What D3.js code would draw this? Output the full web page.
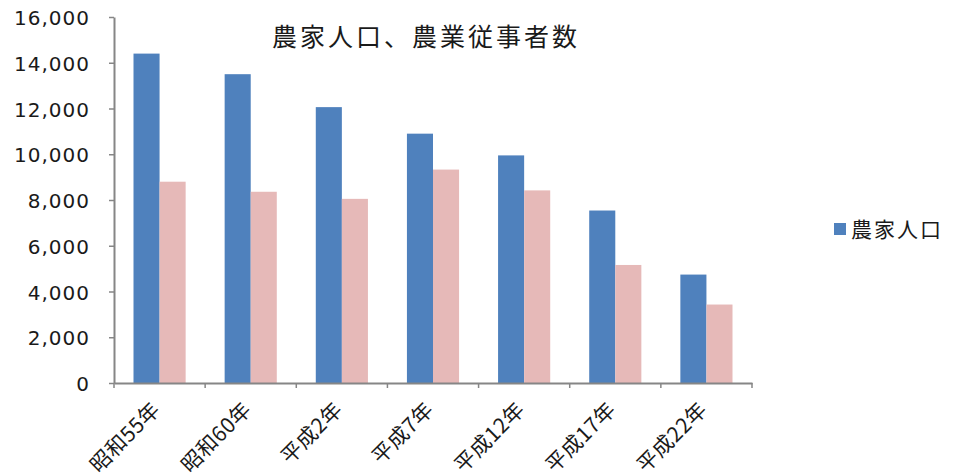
<!DOCTYPE html>
<html>
<head>
<meta charset="utf-8">
<script src="https://cdn.jsdelivr.net/npm/d3@7"></script>
<style>
  body { margin: 0; background: #fff; }
  svg { display: block; }
</style>
</head>
<body>
<svg id="chart"></svg>
<script>
// data
const categories = ["昭和55年", "昭和60年", "平成2年", "平成7年", "平成12年", "平成17年", "平成22年"];
const farmPopulation = [14400, 13500, 12060, 10900, 9950, 7540, 4740];
const farmWorkers = [8800, 8360, 8050, 9330, 8420, 5160, 3430];
const seriesNames = ["農家人口", "農業従事者数"];
const yTicks = [0, 2000, 4000, 6000, 8000, 10000, 12000, 14000, 16000];
const title = "農家人口、農業従事者数";

const width = 953, height = 475;
const margin = {left: 114, right: 201, top: 17, bottom: 92};
const innerW = width - margin.left - margin.right;
const innerH = height - margin.top - margin.bottom;
const colors = ["#4F81BD", "#E6B9B8"];
const axisColor = "#868686";

const svg = d3.select("#chart")
    .attr("width", width)
    .attr("height", height);

const g = svg.append("g")
    .attr("transform", "translate(" + margin.left + "," + margin.top + ")");

const x = d3.scaleBand()
    .domain(categories)
    .range([0, innerW])
    .paddingInner(0)
    .paddingOuter(0);

const x1 = d3.scaleBand()
    .domain(seriesNames)
    .range([19.5, x.bandwidth() - 19.5]);

const y = d3.scaleLinear()
    .domain([0, 16000])
    .range([innerH, 0]);

// bars
const rows = categories.map((c, i) => ({cat: c, values: [farmPopulation[i], farmWorkers[i]]}));

g.append("g")
    .selectAll("g")
    .data(rows)
    .enter()
    .append("g")
    .attr("transform", d => "translate(" + x(d.cat) + ",0)")
    .selectAll("rect")
    .data(d => d.values.map((v, k) => ({name: seriesNames[k], v: v, k: k})))
    .enter()
    .append("rect")
    .attr("x", d => x1(d.name))
    .attr("y", d => y(d.v))
    .attr("width", x1.bandwidth())
    .attr("height", d => innerH - y(d.v))
    .attr("fill", d => colors[d.k]);

// y axis
const yAxis = d3.axisLeft(y)
    .tickValues(yTicks)
    .tickSize(5)
    .tickSizeOuter(0)
    .tickFormat(d3.format(","));
const gy = g.append("g").call(yAxis);
gy.select(".domain").attr("stroke", axisColor).attr("stroke-width", 2);
gy.selectAll(".tick line").attr("stroke", axisColor).attr("stroke-width", 1.5);
gy.selectAll(".tick text")
    .attr("x", -24)
    .attr("dy", "0.38em")
    .attr("fill", "#1a1a1a")
    .style("font-family", "'DejaVu Sans', sans-serif")
    .style("font-size", "20px")
    .style("letter-spacing", "1px");

// x axis
const xAxis = d3.axisBottom(x)
    .tickValues([])
    .tickSizeOuter(0);
const gx = g.append("g")
    .attr("transform", "translate(0," + innerH + ")")
    .call(xAxis);
gx.select(".domain").attr("stroke", axisColor).attr("stroke-width", 2);

// tick marks on band boundaries
gx.selectAll(".bound")
    .data(d3.range(categories.length + 1))
    .enter()
    .append("line")
    .attr("x1", i => i * x.step())
    .attr("x2", i => i * x.step())
    .attr("y1", 0)
    .attr("y2", 5)
    .attr("stroke", axisColor)
    .attr("stroke-width", 1.5);

// rotated category labels
gx.selectAll(".cat")
    .data(categories)
    .enter()
    .append("text")
    .attr("text-anchor", "end")
    .attr("transform", d => "translate(" + (x(d) + x.bandwidth() / 2 + 2) + ",28) rotate(-45)")
    .attr("fill", "#1a1a1a")
    .style("font-family", "'Noto Sans CJK JP', sans-serif")
    .style("font-size", "21px")
    .style("letter-spacing", "0.5px")
    .text(d => d);

// title
svg.append("text")
    .attr("x", 426)
    .attr("y", 46)
    .attr("text-anchor", "middle")
    .attr("fill", "#1a1a1a")
    .style("font-family", "'Noto Sans CJK JP', sans-serif")
    .style("font-size", "25px")
    .style("letter-spacing", "3px")
    .text(title);

// legend (only first series visible in the original)
const legend = svg.append("g")
    .attr("transform", "translate(834,223)");
legend.append("rect")
    .attr("width", 12)
    .attr("height", 12)
    .attr("fill", colors[0]);
legend.append("text")
    .attr("x", 17)
    .attr("y", 7)
    .attr("dy", "0.35em")
    .attr("fill", "#1a1a1a")
    .style("font-family", "'Noto Sans CJK JP', sans-serif")
    .style("font-size", "21px")
    .style("letter-spacing", "2px")
    .text(seriesNames[0]);
</script>
</body>
</html>
